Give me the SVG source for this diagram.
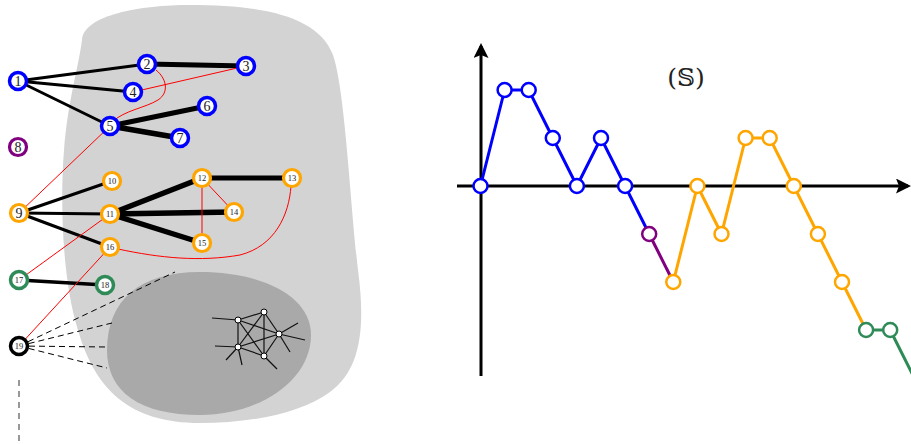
<svg xmlns="http://www.w3.org/2000/svg" width="911" height="444" viewBox="0 0 911 444">
<style>
.n circle{fill:#fff}
.b circle{stroke:#0000ff;stroke-width:3.5}
.o circle{stroke:#ffa500;stroke-width:3.2}
.p circle{stroke:#800080;stroke-width:3.2}
.g circle{stroke:#2e8b57;stroke-width:3.5}
.k circle{stroke:#000;stroke-width:3.5}
.n text{font-family:"Liberation Serif","DejaVu Serif",serif;text-anchor:middle;fill:#222}
.l1{font-size:14px}
.l2{font-size:8.5px}
.e{stroke:#000;fill:none;stroke-linecap:round}
.r{stroke:#ff0000;stroke-width:1;fill:none}
.d{stroke:#000;stroke-width:1;stroke-dasharray:6 4;fill:none}
.s{stroke:#111;stroke-width:1.2}
.sn{fill:#fff;stroke:#000;stroke-width:1}
.ax{stroke:#000;stroke-width:3;fill:none}
.pt{fill:#fff;stroke-width:2.5}
</style>
<defs>
<marker id="arr" viewBox="0 0 10 10" refX="8" refY="5" markerWidth="5" markerHeight="5" orient="auto" markerUnits="strokeWidth">
<path d="M0,0 L10,5 L0,10 L2,5 Z" fill="#000"/>
</marker>
</defs>
<!-- blobs -->
<path id="blobLight" d="M 82,40 C 84,15 140,5 190,5 C 260,5 318,15 333,55 C 345,90 350,200 358,270 C 366,330 360,370 330,392 C 300,414 250,423 200,423 C 130,423 95,390 78,330 C 62,280 60,200 64,150 C 68,100 78,70 82,40 Z" fill="#d3d3d3"/>
<path id="blobDark" d="M 200,272 C 260,272 311,295 311,335 C 311,380 260,415 200,415 C 140,415 107,392 107,350 C 107,300 140,272 200,272 Z" fill="#a9a9a9"/>
<!-- connectors -->
<g id="connectors">
<line class="e" x1="18" y1="81" x2="147" y2="64" stroke-width="3"/>
<line class="e" x1="18" y1="81" x2="133" y2="92" stroke-width="3"/>
<line class="e" x1="18" y1="81" x2="110" y2="126" stroke-width="3"/>
<line class="e" x1="147" y1="64" x2="246" y2="66" stroke-width="5"/>
<line class="e" x1="110" y1="126" x2="207" y2="106" stroke-width="5"/>
<line class="e" x1="110" y1="126" x2="180" y2="138" stroke-width="5.5"/>
<line class="e" x1="19" y1="213" x2="112" y2="181" stroke-width="3"/>
<line class="e" x1="19" y1="213" x2="110" y2="214" stroke-width="3"/>
<line class="e" x1="19" y1="213" x2="110" y2="247" stroke-width="3"/>
<line class="e" x1="110" y1="214" x2="202" y2="178" stroke-width="5.5"/>
<line class="e" x1="110" y1="214" x2="234" y2="212" stroke-width="5.5"/>
<line class="e" x1="110" y1="214" x2="202" y2="243" stroke-width="5.5"/>
<line class="e" x1="202" y1="178" x2="292" y2="178" stroke-width="5"/>
<line class="e" x1="19" y1="280" x2="105" y2="285" stroke-width="3.5"/>
<path class="r" d="M 156,70 C 166,78 170,92 158,100 C 145,108 125,110 112,122"/>
<line class="r" x1="110" y1="126" x2="19" y2="213"/>
<line class="r" x1="133" y1="92" x2="246" y2="66"/>
<line class="r" x1="202" y1="178" x2="234" y2="212"/>
<line class="r" x1="202" y1="178" x2="202" y2="243"/>
<line class="r" x1="110" y1="214" x2="19" y2="280"/>
<line class="r" x1="110" y1="247" x2="19" y2="346"/>
<path class="r" d="M 118,249 C 160,258 200,262 240,255 C 275,246 289,215 291,186"/>
<line class="d" x1="19" y1="346" x2="175" y2="272"/>
<line class="d" x1="19" y1="346" x2="112" y2="323"/>
<line class="d" x1="19" y1="346" x2="107" y2="347"/>
<line class="d" x1="19" y1="346" x2="107" y2="368"/>
<line x1="19" y1="380" x2="19" y2="444" stroke="#777" stroke-width="1.5" stroke-dasharray="6 5"/>
<!-- small cluster edges -->
<g id="cluster">
<line class="s" x1="238" y1="320" x2="264" y2="312"/>
<line class="s" x1="238" y1="320" x2="238" y2="347"/>
<line class="s" x1="238" y1="320" x2="279" y2="334"/>
<line class="s" x1="238" y1="320" x2="264" y2="356"/>
<line class="s" x1="264" y1="312" x2="238" y2="347"/>
<line class="s" x1="264" y1="312" x2="264" y2="356"/>
<line class="s" x1="264" y1="312" x2="279" y2="334"/>
<line class="s" x1="238" y1="347" x2="279" y2="334"/>
<line class="s" x1="238" y1="347" x2="264" y2="356"/>
<line class="s" x1="279" y1="334" x2="264" y2="356"/>
<line class="s" x1="238" y1="320" x2="212" y2="318"/>
<line class="s" x1="238" y1="347" x2="215" y2="346"/>
<line class="s" x1="238" y1="347" x2="226" y2="360"/>
<line class="s" x1="238" y1="347" x2="242" y2="365"/>
<line class="s" x1="279" y1="334" x2="298" y2="323"/>
<line class="s" x1="279" y1="334" x2="305" y2="340"/>
<line class="s" x1="279" y1="334" x2="290" y2="352"/>
<line class="s" x1="264" y1="356" x2="277" y2="369"/>
<circle class="sn" cx="238" cy="320" r="3"/>
<circle class="sn" cx="264" cy="312" r="3"/>
<circle class="sn" cx="279" cy="334" r="3"/>
<circle class="sn" cx="238" cy="347" r="3"/>
<circle class="sn" cx="264" cy="356" r="3"/>
</g>
</g>
<!-- nodes -->
<g id="n1" class="n b"><circle cx="18" cy="81" r="8.5"/><text class="l1" x="18" y="86">1</text></g>
<g id="n2" class="n b"><circle cx="147" cy="64" r="8.5"/><text class="l1" x="147" y="69">2</text></g>
<g id="n3" class="n b"><circle cx="246" cy="66" r="8.5"/><text class="l1" x="246" y="71">3</text></g>
<g id="n4" class="n b"><circle cx="133" cy="92" r="8.5"/><text class="l1" x="133" y="97">4</text></g>
<g id="n5" class="n b"><circle cx="110" cy="126" r="8.5"/><text class="l1" x="110" y="131">5</text></g>
<g id="n6" class="n b"><circle cx="207" cy="106" r="8.5"/><text class="l1" x="207" y="111">6</text></g>
<g id="n7" class="n b"><circle cx="180" cy="138" r="8.5"/><text class="l1" x="180" y="143">7</text></g>
<g id="n8" class="n p"><circle cx="18" cy="147" r="8.5"/><text class="l1" x="18" y="152">8</text></g>
<g id="n9" class="n o"><circle cx="19" cy="213" r="8.5"/><text class="l1" x="19" y="218">9</text></g>
<g id="n10" class="n o"><circle cx="112" cy="181" r="8.5"/><text class="l2" x="112" y="184">10</text></g>
<g id="n11" class="n o"><circle cx="110" cy="214" r="8.5"/><text class="l2" x="110" y="217">11</text></g>
<g id="n12" class="n o"><circle cx="202" cy="178" r="8.5"/><text class="l2" x="202" y="181">12</text></g>
<g id="n13" class="n o"><circle cx="292" cy="178" r="8.5"/><text class="l2" x="292" y="181">13</text></g>
<g id="n14" class="n o"><circle cx="234" cy="212" r="8.5"/><text class="l2" x="234" y="215">14</text></g>
<g id="n15" class="n o"><circle cx="202" cy="243" r="8.5"/><text class="l2" x="202" y="246">15</text></g>
<g id="n16" class="n o"><circle cx="110" cy="247" r="8.5"/><text class="l2" x="110" y="250">16</text></g>
<g id="n17" class="n g"><circle cx="19" cy="280" r="8.5"/><text class="l2" x="19" y="283">17</text></g>
<g id="n18" class="n g"><circle cx="105" cy="285" r="8.5"/><text class="l2" x="105" y="288">18</text></g>
<g id="n19" class="n k"><circle cx="19" cy="346" r="8.5"/><text class="l2" x="19" y="349">19</text></g>
<!-- right plot -->
<g id="axes">
<line class="ax" x1="457" y1="186" x2="908" y2="186" marker-end="url(#arr)"/>
<line class="ax" x1="481" y1="376" x2="481" y2="46" marker-end="url(#arr)"/>
</g>
<text id="label-S" x="686" y="86" font-family="'DejaVu Serif','Liberation Serif',serif" font-size="25" text-anchor="middle" fill="#222">(𝕊)</text>
<g id="path" fill="none" stroke-width="3" stroke-linejoin="round">
<polyline stroke="#0000ff" points="480.5,186 504.6,90 528.7,90 552.8,138 576.9,186 601,138 625.1,186 649.2,234"/>
<polyline stroke="#800080" points="649.2,234 673.3,282"/>
<polyline stroke="#ffa500" points="673.3,282 697.4,186 721.5,234 745.6,138 769.7,138 793.8,186 817.9,234 842,282 866.1,330"/>
<polyline stroke="#2e8b57" points="866.1,330 890.2,330 914.3,378"/>
</g>
<g id="points">
<g stroke="#0000ff">
<circle class="pt" cx="480.5" cy="186" r="7"/>
<circle class="pt" cx="504.6" cy="90" r="7"/>
<circle class="pt" cx="528.7" cy="90" r="7"/>
<circle class="pt" cx="552.8" cy="138" r="7"/>
<circle class="pt" cx="576.9" cy="186" r="7"/>
<circle class="pt" cx="601" cy="138" r="7"/>
<circle class="pt" cx="625.1" cy="186" r="7"/>
</g>
<circle class="pt" stroke="#800080" cx="649.2" cy="234" r="7"/>
<g stroke="#ffa500">
<circle class="pt" cx="673.3" cy="282" r="7"/>
<circle class="pt" cx="697.4" cy="186" r="7"/>
<circle class="pt" cx="721.5" cy="234" r="7"/>
<circle class="pt" cx="745.6" cy="138" r="7"/>
<circle class="pt" cx="769.7" cy="138" r="7"/>
<circle class="pt" cx="793.8" cy="186" r="7"/>
<circle class="pt" cx="817.9" cy="234" r="7"/>
<circle class="pt" cx="842" cy="282" r="7"/>
</g>
<g stroke="#2e8b57">
<circle class="pt" cx="866.1" cy="330" r="7"/>
<circle class="pt" cx="890.2" cy="330" r="7"/>
</g>
</g>
</svg>
